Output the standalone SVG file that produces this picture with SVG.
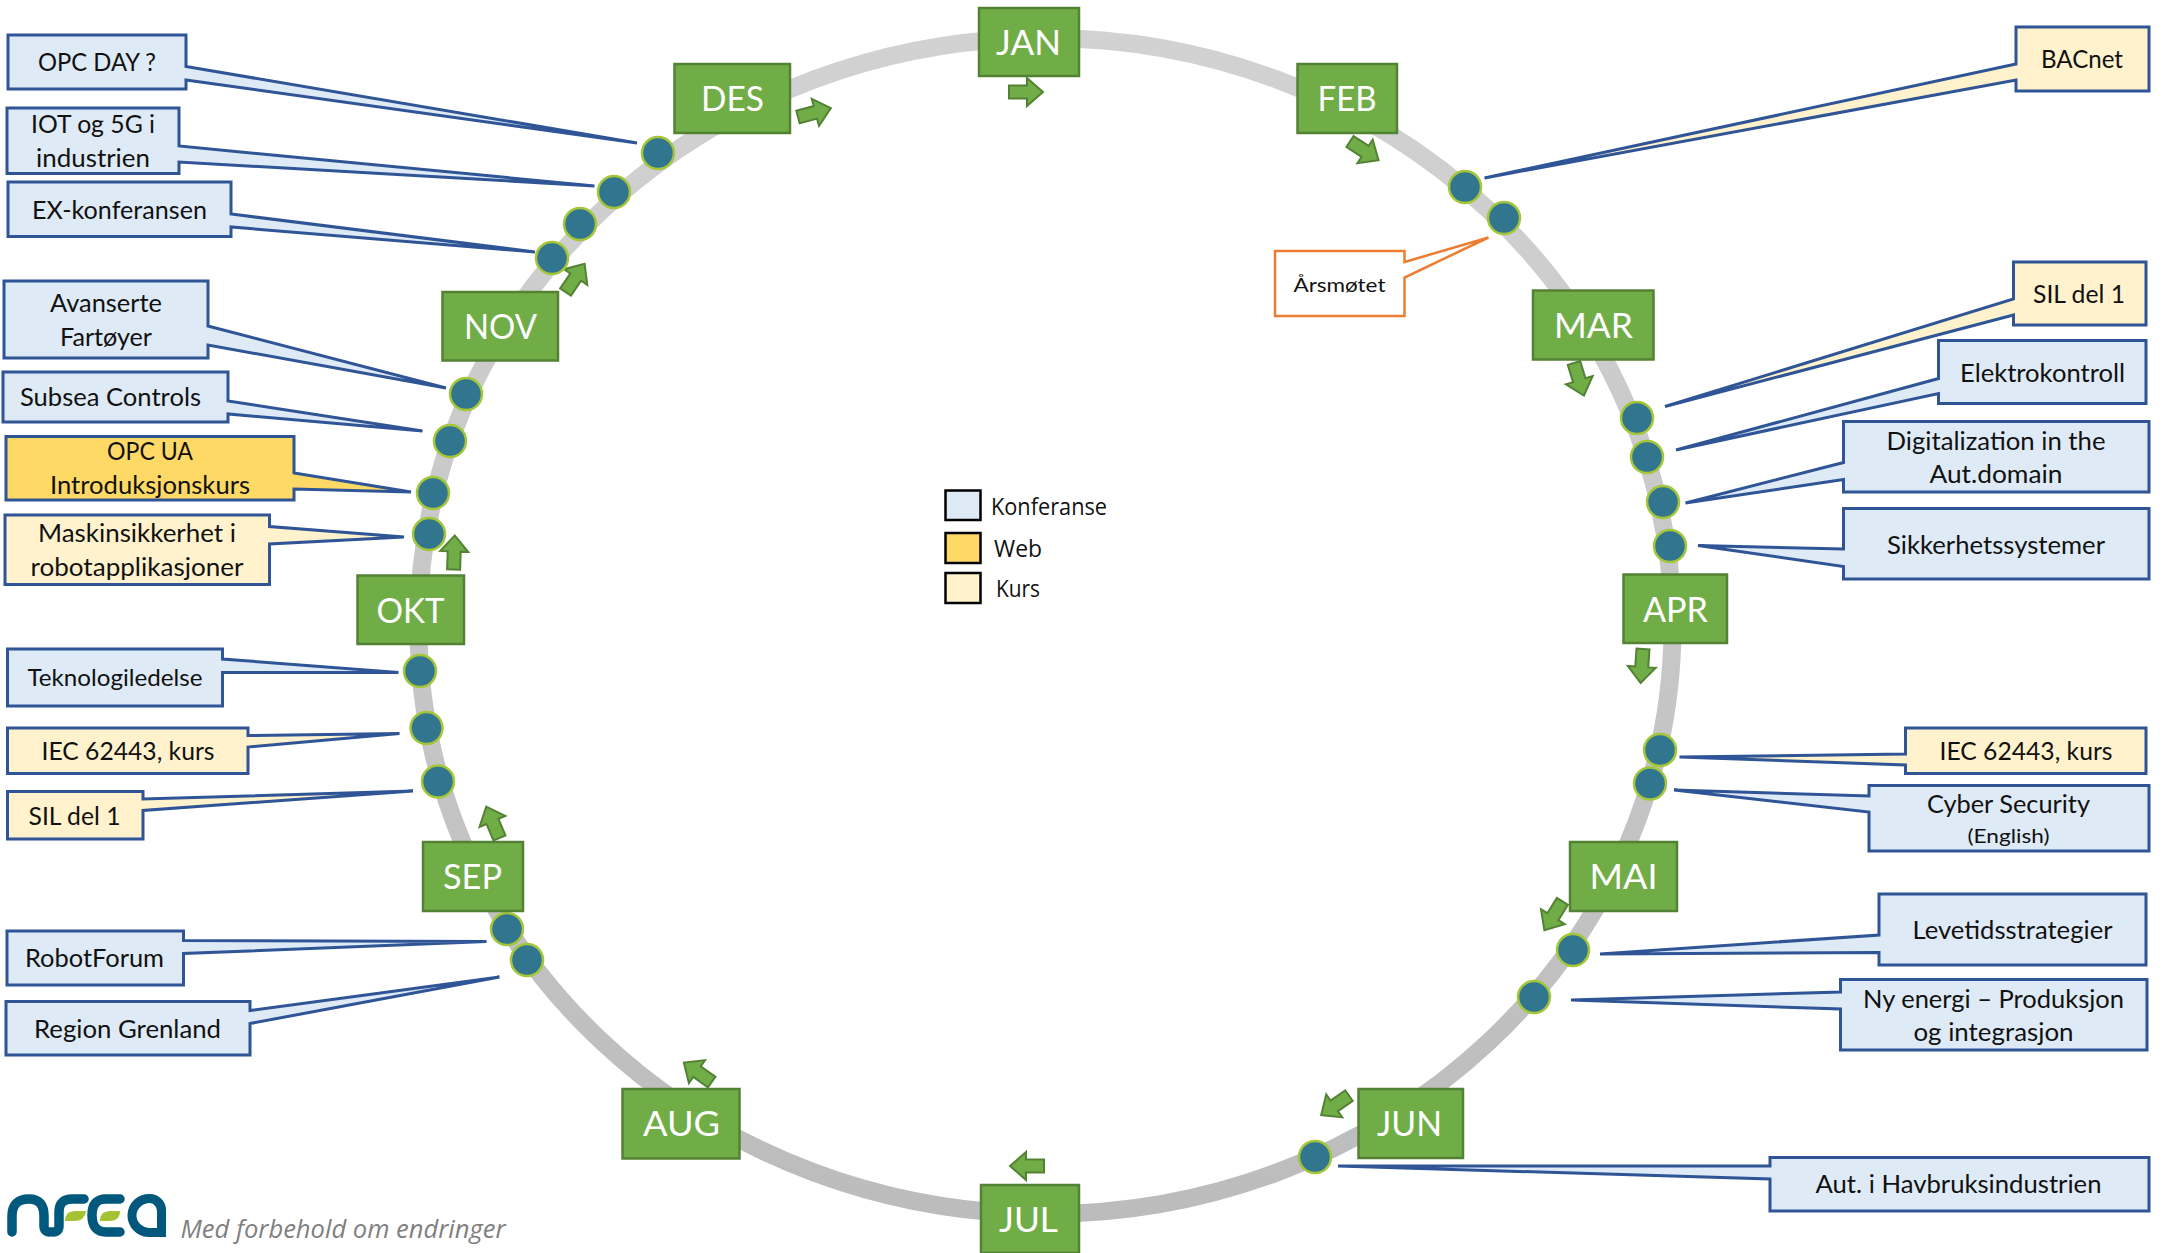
<svg xmlns="http://www.w3.org/2000/svg" width="2163" height="1253" viewBox="0 0 2163 1253">
<style>
text{font-family:"Lato","Liberation Sans",sans-serif;fill:#111;text-anchor:middle;font-size:25px;lengthAdjust:spacingAndGlyphs}
.c{stroke:#2f5597;stroke-width:3;stroke-linejoin:miter}
.k{fill:#deeaf6}.w{fill:#ffd966}.u{fill:#fff2cc}
.m{fill:#70ad47;stroke:#548235;stroke-width:2.5}
.mt{fill:#fff;font-size:35px}
.d{fill:#31758f;stroke:#a4c639;stroke-width:2.5}
.a{fill:#70ad47;stroke:#548235;stroke-width:2}
.l{fill:none;stroke:#00587c;stroke-width:9.5;stroke-linecap:round}
.lg{fill:#a4c232}
.leg{fill:none;stroke:#000;stroke-width:2.5}
.o{font-family:"Open Sans","Liberation Sans",sans-serif;font-size:23px}
</style>
<defs>
<linearGradient id="rg" gradientUnits="userSpaceOnUse" x1="0" y1="30" x2="0" y2="1220"><stop offset="0" stop-color="#d2d2d2"/><stop offset="1" stop-color="#bcbcbc"/></linearGradient>
<path id="ar" d="M0,-6.5 H18 V-14 L34,0 L18,14 V6.5 H0 Z"/>
<circle id="dot" r="16"/>
</defs>
<g id="ring"><ellipse cx="1045.5" cy="626" rx="627" ry="588" fill="none" stroke="url(#rg)" stroke-width="18"/></g>
<g id="connectors">
<use href="#ar" class="a" transform="translate(1009,92)"/>
<use href="#ar" class="a" transform="translate(798,117) rotate(-15)"/>
<use href="#ar" class="a" transform="translate(1350,141.6) rotate(33)"/>
<use href="#ar" class="a" transform="translate(1574,363) rotate(73)"/>
<use href="#ar" class="a" transform="translate(1643,649) rotate(94)"/>
<use href="#ar" class="a" transform="translate(1562.4,901.4) rotate(122)"/>
<use href="#ar" class="a" transform="translate(1349,1095.6) rotate(145)"/>
<use href="#ar" class="a" transform="translate(1044,1166) rotate(180)"/>
<use href="#ar" class="a" transform="translate(711.7,1082) rotate(-145)"/>
<use href="#ar" class="a" transform="translate(499.5,838) rotate(-113)"/>
<use href="#ar" class="a" transform="translate(453.6,569.4) rotate(-88)"/>
<use href="#ar" class="a" transform="translate(565.6,292) rotate(-56)"/>
</g>
<g id="dots">
<use href="#dot" class="d" x="658" y="153"/><use href="#dot" class="d" x="614" y="192"/><use href="#dot" class="d" x="580" y="224"/><use href="#dot" class="d" x="552" y="258"/><use href="#dot" class="d" x="466" y="394"/><use href="#dot" class="d" x="450" y="441"/><use href="#dot" class="d" x="433" y="493"/><use href="#dot" class="d" x="429" y="534"/><use href="#dot" class="d" x="420" y="671"/><use href="#dot" class="d" x="426.5" y="728"/><use href="#dot" class="d" x="438" y="781.5"/><use href="#dot" class="d" x="507" y="929"/><use href="#dot" class="d" x="527" y="960"/><use href="#dot" class="d" x="1465" y="187"/><use href="#dot" class="d" x="1504" y="218"/><use href="#dot" class="d" x="1637" y="418"/><use href="#dot" class="d" x="1647" y="457"/><use href="#dot" class="d" x="1663" y="502"/><use href="#dot" class="d" x="1670" y="546"/><use href="#dot" class="d" x="1660" y="750"/><use href="#dot" class="d" x="1650" y="783.5"/><use href="#dot" class="d" x="1573" y="950"/><use href="#dot" class="d" x="1534" y="997"/><use href="#dot" class="d" x="1315" y="1157"/>
</g>
<g id="m-jan"><rect class="m" x="979" y="8" width="100" height="68"/><text class="mt" x="1028.5" y="55" textLength="65" lengthAdjust="spacingAndGlyphs">JAN</text></g>
<g id="m-feb"><rect class="m" x="1297.5" y="64" width="99.5" height="69"/><text class="mt" x="1347" y="111" textLength="59" lengthAdjust="spacingAndGlyphs">FEB</text></g>
<g id="m-mar"><rect class="m" x="1533" y="290.5" width="120.5" height="69"/><text class="mt" x="1593.5" y="338" textLength="79" lengthAdjust="spacingAndGlyphs">MAR</text></g>
<g id="m-apr"><rect class="m" x="1623.5" y="574.5" width="103.5" height="68.5"/><text class="mt" x="1675.5" y="621.5" textLength="65" lengthAdjust="spacingAndGlyphs">APR</text></g>
<g id="m-mai"><rect class="m" x="1570" y="842" width="107" height="69"/><text class="mt" x="1623.5" y="889" textLength="68" lengthAdjust="spacingAndGlyphs">MAI</text></g>
<g id="m-jun"><rect class="m" x="1358.5" y="1089" width="104.5" height="69"/><text class="mt" x="1409.5" y="1136" textLength="65" lengthAdjust="spacingAndGlyphs">JUN</text></g>
<g id="m-jul"><rect class="m" x="981" y="1185" width="98" height="68"/><text class="mt" x="1028.5" y="1232" textLength="59" lengthAdjust="spacingAndGlyphs">JUL</text></g>
<g id="m-aug"><rect class="m" x="622.5" y="1089" width="117" height="69.5"/><text class="mt" x="681.5" y="1136" textLength="77" lengthAdjust="spacingAndGlyphs">AUG</text></g>
<g id="m-sep"><rect class="m" x="423" y="842" width="100" height="69"/><text class="mt" x="472.5" y="889" textLength="59" lengthAdjust="spacingAndGlyphs">SEP</text></g>
<g id="m-okt"><rect class="m" x="357.5" y="575.5" width="106.5" height="68.5"/><text class="mt" x="410.5" y="622.5" textLength="68" lengthAdjust="spacingAndGlyphs">OKT</text></g>
<g id="m-nov"><rect class="m" x="442.5" y="292" width="115.5" height="68.5"/><text class="mt" x="500.5" y="339" textLength="73" lengthAdjust="spacingAndGlyphs">NOV</text></g>
<g id="m-des"><rect class="m" x="674.5" y="64" width="115.5" height="69"/><text class="mt" x="732.5" y="111" textLength="63" lengthAdjust="spacingAndGlyphs">DES</text></g>

<g id="opc-day"><path class="c k" d="M8,35 H186 V66.5 L637,143 L186,80 V89 H8 Z"/><text x="97" y="71" textLength="118" lengthAdjust="spacingAndGlyphs">OPC DAY ?</text></g>
<g id="iot"><path class="c k" d="M7,108 H179 V146 L594.5,186 L179,162 V173.5 H7 Z"/><text x="93" y="132.5" textLength="124" lengthAdjust="spacingAndGlyphs">IOT og 5G i</text><text x="93" y="167" textLength="114" lengthAdjust="spacingAndGlyphs">industrien</text></g>
<g id="ex"><path class="c k" d="M8,182 H231 V214 L535,252 L231,227 V236.5 H8 Z"/><text x="119.5" y="219" textLength="175" lengthAdjust="spacingAndGlyphs">EX-konferansen</text></g>
<g id="avanserte"><path class="c k" d="M4,281 H208 V326 L446,388 L208,345 V358 H4 Z"/><text x="106" y="312" textLength="112" lengthAdjust="spacingAndGlyphs">Avanserte</text><text x="106" y="346" textLength="92" lengthAdjust="spacingAndGlyphs">Fartøyer</text></g>
<g id="subsea"><path class="c k" d="M3,372 H228 V401 L422.5,431 L228,414 V422 H3 Z"/><text x="110.5" y="406" textLength="181" lengthAdjust="spacingAndGlyphs">Subsea Controls</text></g>
<g id="opc-ua"><path class="c w" d="M6,436.5 H294 V473 L411,492 L294,489 V500 H6 Z"/><text x="150" y="460" textLength="86" lengthAdjust="spacingAndGlyphs">OPC UA</text><text x="150" y="494" textLength="200" lengthAdjust="spacingAndGlyphs">Introduksjonskurs</text></g>
<g id="maskin"><path class="c u" d="M5,515 H269.5 V526.5 L404,537 L269.5,544 V584.5 H5 Z"/><text x="137" y="541.5" textLength="198" lengthAdjust="spacingAndGlyphs">Maskinsikkerhet i</text><text x="137" y="576" textLength="213" lengthAdjust="spacingAndGlyphs">robotapplikasjoner</text></g>
<g id="teknologi"><path class="c k" d="M7.5,649 H222.5 V659 L398.5,672.5 H222.5 V706 H7.5 Z"/><text x="115" y="686" font-size="23" style="font-size:23px" textLength="175" lengthAdjust="spacingAndGlyphs">Teknologiledelse</text></g>
<g id="iec-l"><path class="c u" d="M7.5,728 H248 V735.5 L399.5,733.5 L248,747 V773.5 H7.5 Z"/><text x="128" y="760" textLength="173" lengthAdjust="spacingAndGlyphs">IEC 62443, kurs</text></g>
<g id="sil-l"><path class="c u" d="M7.5,791.5 H143 V799 L413,791 L143,810.5 V839 H7.5 Z"/><text x="74.5" y="825" textLength="92" lengthAdjust="spacingAndGlyphs">SIL del 1</text></g>
<g id="robot"><path class="c k" d="M7,931 H183.5 V940.5 L486.5,941.5 L183.5,953.5 V985 H7 Z"/><text x="94.5" y="967" textLength="139" lengthAdjust="spacingAndGlyphs">RobotForum</text></g>
<g id="region"><path class="c k" d="M6,1001.5 H250 V1010.5 L499.5,977 L250,1023.5 V1055 H6 Z"/><text x="127.5" y="1038" textLength="187" lengthAdjust="spacingAndGlyphs">Region Grenland</text></g>

<g id="bacnet"><path class="c u" d="M2016,27 H2149 V91 H2016 V80 L1484.5,178 L2016,64 Z"/><text x="2082" y="68" textLength="82" lengthAdjust="spacingAndGlyphs">BACnet</text></g>
<g id="arsmotet"><path d="M1275,251 H1404.5 V262 L1488.5,237.5 L1404.5,277.5 V316 H1275 Z" fill="#fff" stroke="#ed7d31" stroke-width="2.5"/><text x="1339.5" y="292" style="font-size:20px" textLength="92" lengthAdjust="spacingAndGlyphs">Årsmøtet</text></g>
<g id="sil-r"><path class="c u" d="M2013.5,262 H2146 V325 H2013.5 V315 L1665,406.5 L2013.5,299 Z"/><text x="2079" y="303" textLength="92" lengthAdjust="spacingAndGlyphs">SIL del 1</text></g>
<g id="elektro"><path class="c k" d="M1938.5,340.5 H2146 V403.5 H1938.5 V393.5 L1676,450 L1938.5,378.5 Z"/><text x="2042.5" y="382" textLength="165" lengthAdjust="spacingAndGlyphs">Elektrokontroll</text></g>
<g id="digital"><path class="c k" d="M1843.5,421.5 H2149 V492 H1843.5 V479.5 L1685.5,503 L1843.5,462.5 Z"/><text x="1996" y="449.5" textLength="219" lengthAdjust="spacingAndGlyphs">Digitalization in the</text><text x="1996" y="483" textLength="133" lengthAdjust="spacingAndGlyphs">Aut.domain</text></g>
<g id="sikkerhet"><path class="c k" d="M1843.5,508.5 H2149 V579 H1843.5 V566.5 L1698,545.5 L1843.5,549 Z"/><text x="1996" y="553.5" textLength="218" lengthAdjust="spacingAndGlyphs">Sikkerhetssystemer</text></g>
<g id="iec-r"><path class="c u" d="M1905.5,728 H2146 V773.5 H1905.5 V765 L1679.5,757 L1905.5,754 Z"/><text x="2026" y="760" textLength="173" lengthAdjust="spacingAndGlyphs">IEC 62443, kurs</text></g>
<g id="cyber"><path class="c k" d="M1869,785.5 H2149 V851 H1869 V812 L1674,790 L1869,796 Z"/><text x="2008.5" y="813" textLength="163" lengthAdjust="spacingAndGlyphs">Cyber Security</text><text x="2008.5" y="843" style="font-size:20px" textLength="82" lengthAdjust="spacingAndGlyphs">(English)</text></g>
<g id="leveti"><path class="c k" d="M1879,894 H2146 V965 H1879 V952.5 L1600,954 L1879,935 Z"/><text x="2012.5" y="939" textLength="200" lengthAdjust="spacingAndGlyphs">Levetidsstrategier</text></g>
<g id="ny-energi"><path class="c k" d="M1840.5,979.5 H2147 V1050 H1840.5 V1009 L1571,1000 L1840.5,992 Z"/><text x="1993.5" y="1007.5" textLength="261" lengthAdjust="spacingAndGlyphs">Ny energi – Produksjon</text><text x="1993.5" y="1040.5" textLength="160" lengthAdjust="spacingAndGlyphs">og integrasjon</text></g>
<g id="havbruk"><path class="c k" d="M1770,1157.5 H2149 V1211 H1770 V1179 L1338,1166 H1770 Z"/><text x="1958.5" y="1192.5" textLength="286" lengthAdjust="spacingAndGlyphs">Aut. i Havbruksindustrien</text></g>

<g id="legend">
<rect class="k leg" style="fill:#deeaf6" x="945.5" y="490.5" width="35" height="29.5"/><text class="o" x="1049" y="515" textLength="116" lengthAdjust="spacingAndGlyphs">Konferanse</text>
<rect class="w leg" style="fill:#ffd966" x="945.5" y="533" width="35" height="30"/><text class="o" x="1018" y="556.5" textLength="48" lengthAdjust="spacingAndGlyphs">Web</text>
<rect class="u leg" style="fill:#fff2cc" x="945.5" y="573" width="35" height="30"/><text class="o" x="1018" y="597" textLength="44" lengthAdjust="spacingAndGlyphs">Kurs</text>
</g>
<g id="logo">
<path class="l" d="M12,1232 V1216 Q12,1199 29,1199 Q44,1199 44,1216 V1226 Q44,1232 50,1232"/>
<path class="l" d="M84,1199 H72 Q59,1199 59,1212 V1226 Q59,1232 53,1232"/>
<path class="lg" d="M65,1221 Q65,1211 75,1211 H86 Q85,1221 74,1221 Z"/>
<path class="l" d="M120,1199 H106 Q92,1199 92,1215 Q92,1232 106,1232 H120"/>
<path class="lg" d="M100,1221 Q100,1211 110,1211 H120 Q120,1221 109,1221 Z"/>
<path d="M150,1194 A16,16 0 0 1 166,1210 V1237 H148 A21.5,21.5 0 0 1 150,1194 Z M150,1203 A13,12 0 0 0 150,1228 H157 V1211 A8,8 0 0 0 150,1203 Z" fill="#00587c" fill-rule="evenodd"/>
</g>
<text x="343" y="1238" style="font-family:'Open Sans','Liberation Sans',sans-serif;font-style:italic;font-size:25px;fill:#7f7f7f" textLength="325" lengthAdjust="spacingAndGlyphs">Med forbehold om endringer</text>
</svg>
